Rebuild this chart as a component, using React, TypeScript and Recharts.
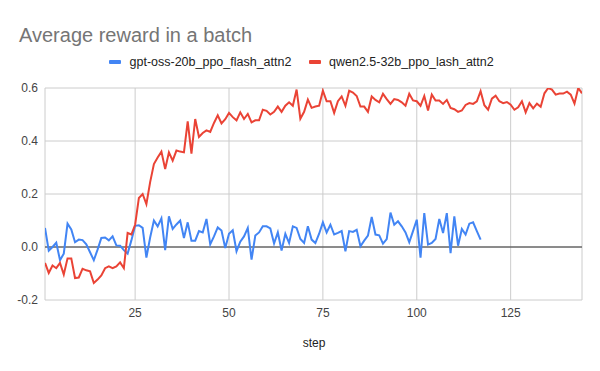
import React from 'react';
import { LineChart, Line, XAxis, YAxis, CartesianGrid, ReferenceLine } from 'recharts';

const redValues: number[] = [
  -0.06, -0.098, -0.07, -0.08, -0.06, -0.104, -0.043, -0.043, -0.117, -0.115,
  -0.082, -0.088, -0.092, -0.136, -0.123, -0.107, -0.08, -0.073, -0.08, -0.073,
  -0.058, -0.08, 0.053, 0.047, 0.084, 0.185, 0.2, 0.162, 0.245, 0.313,
  0.338, 0.36, 0.294, 0.357, 0.326, 0.364, 0.36, 0.357, 0.474, 0.352,
  0.483, 0.415, 0.43, 0.44, 0.434, 0.468, 0.497, 0.466, 0.482, 0.506,
  0.49, 0.478, 0.508, 0.483, 0.502, 0.47, 0.478, 0.478, 0.518, 0.514,
  0.5, 0.51, 0.53, 0.51, 0.533, 0.546, 0.533, 0.594, 0.484, 0.51,
  0.556, 0.525, 0.53, 0.533, 0.59, 0.55, 0.55, 0.506, 0.55, 0.568,
  0.533, 0.59, 0.583, 0.57, 0.53, 0.53, 0.51, 0.568, 0.555, 0.546,
  0.578, 0.558, 0.54, 0.558, 0.555, 0.546, 0.533, 0.578, 0.553, 0.55,
  0.533, 0.57, 0.515, 0.575, 0.553, 0.553, 0.54, 0.555, 0.525, 0.52,
  0.51, 0.515, 0.536, 0.543, 0.54, 0.55, 0.588, 0.535, 0.518, 0.56,
  0.571, 0.55, 0.543, 0.547, 0.537, 0.518, 0.527, 0.55, 0.508, 0.543,
  0.523, 0.541, 0.529, 0.58, 0.6, 0.594, 0.575, 0.579, 0.579, 0.586,
  0.575, 0.541, 0.6, 0.58,
];

const blueValues: number[] = [
  0.072, -0.014, 0.0, 0.016, -0.05, -0.025, 0.088, 0.066, 0.018, 0.028,
  0.026, 0.01, -0.02, -0.05, -0.01, 0.034, 0.036, 0.025, 0.04, 0.006,
  0.005, -0.012, -0.025, 0.025, 0.08, 0.082, 0.072, -0.04, 0.036, 0.1,
  0.078, 0.108, -0.012, 0.116, 0.068, 0.085, 0.1, 0.034, 0.093, 0.024,
  0.024, 0.06, 0.055, 0.106, 0.01, 0.04, 0.074, 0.062, -0.004, 0.05,
  0.063, -0.016, 0.02, 0.04, 0.072, -0.048, 0.043, 0.055, 0.078, 0.078,
  0.07, 0.013, 0.055, -0.013, 0.05, 0.015, 0.078, 0.072, 0.03, 0.015,
  0.078, 0.028, 0.015, 0.05, 0.093, 0.055, 0.084, 0.047, 0.053, 0.06,
  -0.016, 0.06, 0.057, 0.065, 0.003, 0.024, 0.043, 0.113, 0.047, 0.044,
  0.013, 0.03, 0.13, 0.084, 0.097, 0.078, 0.055, 0.018, 0.06, 0.103,
  -0.04, 0.128, 0.009, 0.015, 0.03, 0.106, 0.053, 0.128, -0.023, 0.116,
  0.005, 0.068, 0.047, 0.088, 0.093, 0.06, 0.028,
];

const xTicks: number[] = [25, 50, 75, 100, 125];
const yTicks: number[] = [-0.2, 0, 0.2, 0.4, 0.6];

const blueName = 'gpt-oss-20b_ppo_flash_attn2';
const redName = 'qwen2.5-32b_ppo_lash_attn2';
const titleText = 'Average reward in a batch';
const xLabel = 'step';

const blueData = blueValues.map((v, i) => ({ step: i + 1, value: v }));
const redData = redValues.map((v, i) => ({ step: i + 1, value: v }));

const FONT = '"Liberation Sans", Arial, sans-serif';

export default function App() {
  return (
    <div style={{ position: 'absolute', left: 0, top: 0, width: 600, height: 371, background: '#fff', fontFamily: FONT }}>
      <LineChart width={600} height={371} margin={{ top: 88, right: 18, bottom: 41, left: 0 }}>
        <CartesianGrid stroke="#cccccc" strokeWidth={1} vertical={true} horizontal={true} />
        <XAxis
          type="number"
          dataKey="step"
          domain={[1, 144]}
          ticks={xTicks}
          allowDataOverflow
          axisLine={false}
          tickLine={false}
          tickSize={0}
          tickMargin={8}
          height={30}
          tick={{ fill: '#444444', fontSize: 12, fontFamily: FONT }}
        />
        <YAxis
          type="number"
          domain={[-0.2, 0.6]}
          ticks={yTicks}
          allowDataOverflow
          axisLine={false}
          tickLine={false}
          tickSize={0}
          tickMargin={7}
          width={45}
          tickFormatter={(v: number) => v.toFixed(1)}
          tick={{ fill: '#444444', fontSize: 12, fontFamily: FONT }}
        />
        <ReferenceLine y={0} stroke="#333333" strokeWidth={1} />
        <Line
          data={blueData}
          dataKey="value"
          name={blueName}
          type="linear"
          stroke="#4285F4"
          strokeWidth={2}
          dot={false}
          isAnimationActive={false}
        />
        <Line
          data={redData}
          dataKey="value"
          name={redName}
          type="linear"
          stroke="#EA4335"
          strokeWidth={2}
          dot={false}
          isAnimationActive={false}
        />
      </LineChart>
      <div style={{ position: 'absolute', left: 19, top: 25, fontSize: 20, lineHeight: '20px', color: '#757575', whiteSpace: 'nowrap' }}>
        {titleText}
      </div>
      <div style={{ position: 'absolute', left: 0, top: 55, width: 600, height: 14, fontSize: 12.5, lineHeight: '14px', color: '#222222', whiteSpace: 'nowrap' }}>
        <div style={{ position: 'absolute', left: 109, top: 5, width: 12, height: 4, background: '#4285F4', borderRadius: 1 }} />
        <div style={{ position: 'absolute', left: 129.5, top: 0 }}>{blueName}</div>
        <div style={{ position: 'absolute', left: 309, top: 5, width: 12, height: 4, background: '#EA4335', borderRadius: 1 }} />
        <div style={{ position: 'absolute', left: 329, top: 0 }}>{redName}</div>
      </div>
      <div style={{ position: 'absolute', left: 264, width: 100, top: 336, textAlign: 'center', fontSize: 12, lineHeight: '14px', color: '#222222' }}>
        {xLabel}
      </div>
    </div>
  );
}
